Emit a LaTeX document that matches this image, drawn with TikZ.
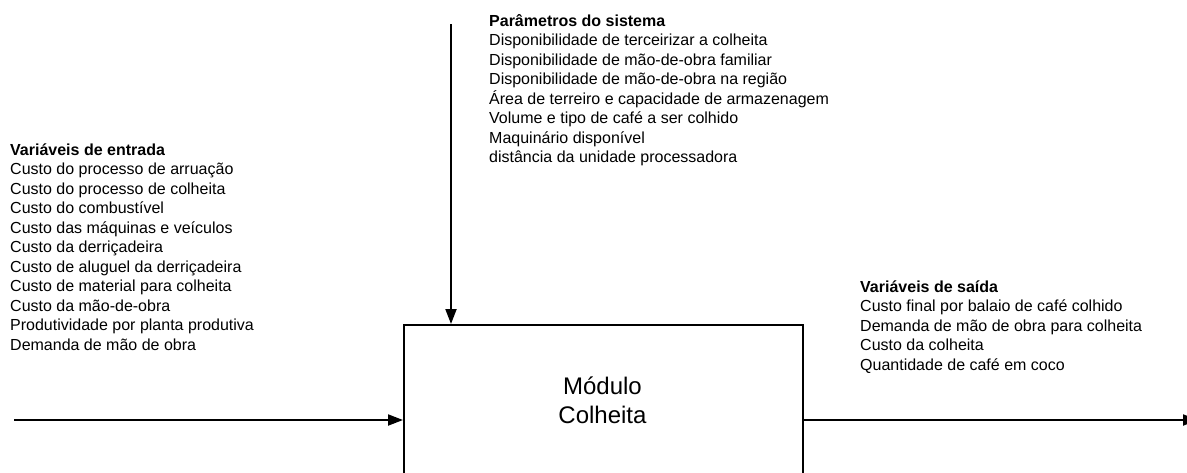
\documentclass[tikz,border=0pt]{standalone}
\usepackage{fontspec}
\setmainfont{Liberation Sans}
\usetikzlibrary{arrows.meta}
\tikzset{
  listtext/.style={anchor=base west, inner sep=0pt, font=\fontsize{16}{19.5}\selectfont},
  modbox/.style={draw, line width=2.2pt, inner sep=0pt, minimum width=399pt, minimum height=220pt, anchor=north west},
  modtext/.style={inner sep=0pt, align=center, font=\fontsize{24}{29}\selectfont},
  flow/.style={line width=2pt, -{Triangle[length=15pt,width=11pt]}}
}
\newcommand{\listblock}[1]{\begin{tabular}[t]{@{}l@{}}#1\end{tabular}}
\begin{document}
\begin{tikzpicture}[x=1pt,y=-1pt]
\useasboundingbox (0,0) rectangle (1187,472);
\node[modbox] (box) at (403,324) {};
\node[modtext] (mod) at (602.5,400) {Módulo\\Colheita};
\node[listtext] (inlist) at (10,155) {\listblock{\textbf{Variáveis de entrada}\\
Custo do processo de arruação\\
Custo do processo de colheita\\
Custo do combustível\\
Custo das máquinas e veículos\\
Custo da derriçadeira\\
Custo de aluguel da derriçadeira\\
Custo de material para colheita\\
Custo da mão-de-obra\\
Produtividade por planta produtiva\\
Demanda de mão de obra}};
\node[listtext] (parlist) at (489,26) {\listblock{\textbf{Parâmetros do sistema}\\
Disponibilidade de terceirizar a colheita\\
Disponibilidade de mão-de-obra familiar\\
Disponibilidade de mão-de-obra na região\\
Área de terreiro e capacidade de armazenagem\\
Volume e tipo de café a ser colhido\\
Maquinário disponível\\
distância da unidade processadora}};
\node[listtext] (outlist) at (860,292) {\listblock{\textbf{Variáveis de saída}\\
Custo final por balaio de café colhido\\
Demanda de mão de obra para colheita\\
Custo da colheita\\
Quantidade de café em coco}};
\coordinate (inS) at (14,420);
\coordinate (topS) at (451,24);
\coordinate (outE) at (1198,420);
\draw[flow] (inS) -- (inS -| box.west);
\draw[flow] (topS) -- (topS |- box.north);
\draw[flow] (outE -| box.east) -- (outE);
\end{tikzpicture}
\end{document}
